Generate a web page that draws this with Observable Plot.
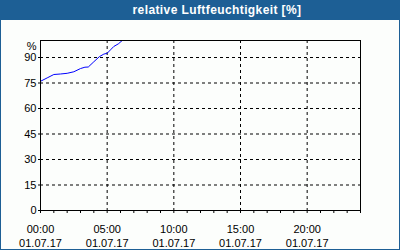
<!DOCTYPE html>
<html>
<head>
<meta charset="utf-8">
<script src="https://cdn.jsdelivr.net/npm/d3@7"></script>
<script src="https://cdn.jsdelivr.net/npm/@observablehq/plot@0.6"></script>
<style>
  html, body { margin: 0; padding: 0; background: #fcfefc; }
  #wrap { width: 398px; height: 249px; border: 1px solid #1d5f95; border-top: none; background: #fcfefc; overflow: hidden; }
  #title { height: 20px; margin: 0 -1px; background: #1d5f95; color: #fff; font: bold 12px "Liberation Sans", Arial, sans-serif; letter-spacing: 0.4px; line-height: 20px; text-align: center; padding-left: 34px; box-sizing: border-box; width: 400px; }
  svg { display: block; }
</style>
</head>
<body>
<div id="wrap"><div id="title"></div><div id="chart"></div></div>
<script>
const titleText = "relative Luftfeuchtigkeit [%]";
const yUnit = "%";
const day = "2017-07-01";
const times = ["00:00","00:30","01:00","01:30","02:00","02:30","03:00","03:20","03:35","04:00","04:25","04:45","05:00","05:15","05:30","05:50","06:15"];
const values = [76, 78, 80, 80.3, 80.7, 81.6, 83.5, 84.3, 84.4, 87.5, 90.5, 92, 92.5, 94.5, 96.5, 98, 100.8];
const yTicks = [0, 15, 30, 45, 60, 75, 90];
const yDomain = [0, 100];

document.getElementById("title").textContent = titleText;

const data = times.map((t, i) => ({time: new Date(`${day}T${t}:00Z`), value: values[i]}));
const start = new Date(`${day}T00:00:00Z`);
const end = d3.utcDay.offset(start, 1);
const majorTicks = d3.utcHour.every(5).range(start, end);
const gridTicks = majorTicks.filter(d => +d !== +start);
const minorTicks = d3.utcHour.range(start, d3.utcHour.offset(end, 1));
const fmtTime = d3.utcFormat("%H:%M");
const fmtDate = d3.utcFormat("%d.%m.%y");

const chart = Plot.plot({
  width: 398,
  height: 229,
  marginLeft: 39,
  marginRight: 39,
  marginTop: 20,
  marginBottom: 39,
  style: {background: "#fcfefc", fontFamily: "'Liberation Sans', Arial, sans-serif", fontSize: "11px", color: "black"},
  x: {type: "utc", domain: [start, end]},
  y: {domain: yDomain},
  marks: [
    Plot.gridX(gridTicks, {stroke: "black", strokeOpacity: 1, strokeDasharray: "3,3"}),
    Plot.gridY(yTicks.filter(d => d !== 0), {stroke: "black", strokeOpacity: 1, strokeDasharray: "3,3"}),
    Plot.line(data, {x: "time", y: "value", stroke: "#0000ff", strokeWidth: 1, clip: true}),
    Plot.frame({stroke: "black", strokeOpacity: 1}),
    Plot.axisX(minorTicks, {tickSize: 3, tickFormat: () => "", stroke: "black", strokeOpacity: 1}),
    Plot.axisX(majorTicks, {tickSize: 0, tickPadding: 12, tickFormat: d => fmtTime(d) + "\n" + fmtDate(d), lineHeight: 1.3, fill: "black", fontSize: 11, label: null}),
    Plot.axisY(yTicks, {tickSize: 2, tickPadding: 2, fill: "black", stroke: "black", fontSize: 11, label: null}),
    Plot.text([yUnit], {frameAnchor: "top-left", dx: -4, dy: 2, textAnchor: "end", fill: "black", fontSize: 11})
  ]
});
document.getElementById("chart").append(chart);
</script>
</body>
</html>
